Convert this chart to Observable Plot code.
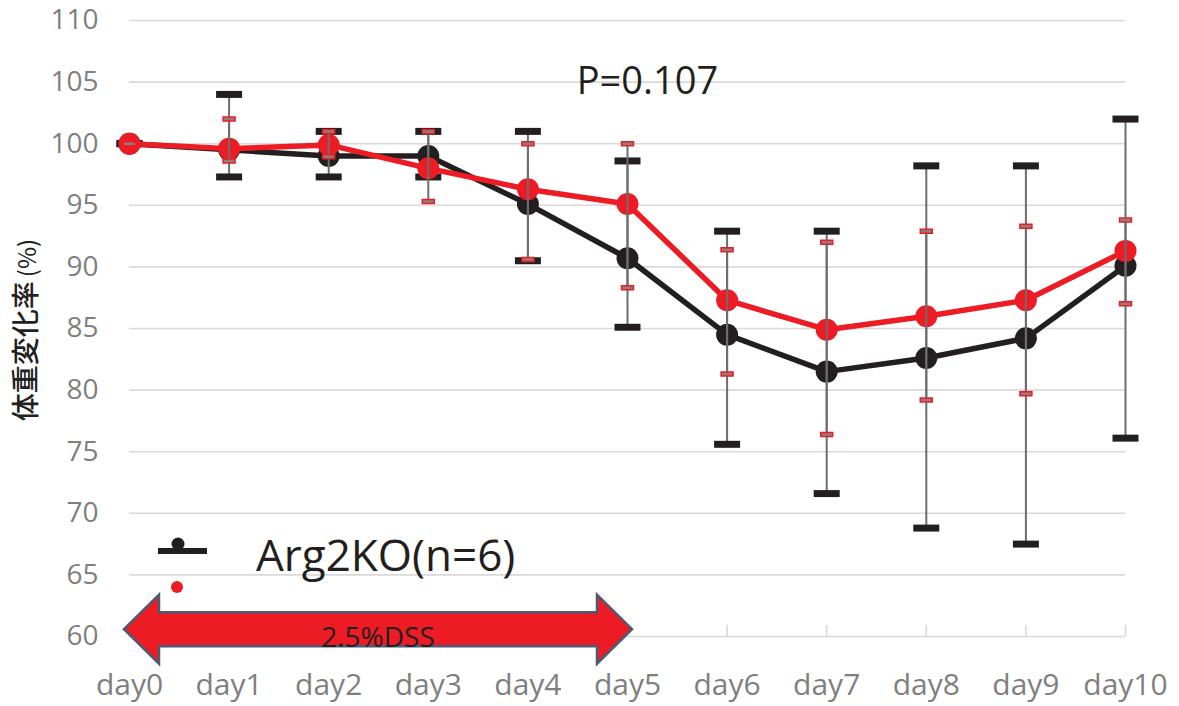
<!DOCTYPE html>
<html><head><meta charset="utf-8">
<script src="https://cdn.jsdelivr.net/npm/d3@7"></script>
<script src="https://cdn.jsdelivr.net/npm/@observablehq/plot@0.6"></script>
<style>body{margin:0;background:#fff}#chart{width:1179px;height:706px}</style>
</head><body><div id="chart"></div>
<script>
// ---- data ----
const days = [0, 1, 2, 3, 4, 5, 6, 7, 8, 9, 10];
const dayLabels = days.map(d => "day" + d);
const yTicks = [60, 65, 70, 75, 80, 85, 90, 95, 100, 105, 110];
const koMean = [100, 99.5, 99.0, 99.0, 95.1, 90.7, 84.5, 81.5, 82.6, 84.2, 90.1];
const koHi   = [100, 104.0, 101.0, 101.0, 101.0, 98.6, 92.9, 92.9, 98.2, 98.2, 102.0];
const koLo   = [100, 97.3, 97.3, 97.3, 90.5, 85.1, 75.6, 71.6, 68.8, 67.5, 76.1];
const wtMean = [100, 99.6, 99.9, 98.0, 96.3, 95.1, 87.3, 84.9, 86.0, 87.3, 91.3];
const wtHi   = [100, 102.0, 101.0, 101.0, 100.0, 100.0, 91.4, 92.0, 92.9, 93.3, 93.8];
const wtLo   = [100, 98.6, 98.95, 95.3, 90.6, 88.3, 81.3, 76.4, 79.2, 79.7, 87.0];
const seriesName = "Arg2KO(n=6)";
const pNote = [{x: 5.2, y: 105, text: "P=0.107"}];
const dss = {start: 0, end: 5, y: 60.55, text: "2.5%DSS"};
const yTitle = "体重変化率", yUnit = "(%)";

const data = days.map((d, i) => ({day: d, ko: koMean[i], koHi: koHi[i], koLo: koLo[i],
  wt: wtMean[i], wtHi: wtHi[i], wtLo: wtLo[i]}));

const BLACK = "#231f20", RED = "#ed1c24", GRID = "#d9d9d9", ERR = "#6d6d6d", TXT = "#7f7f7f";
const rectSym = (w, h) => ({draw(ctx) {
  ctx.moveTo(-w / 2, -h / 2); ctx.lineTo(w / 2, -h / 2); ctx.lineTo(w / 2, h / 2);
  ctx.lineTo(-w / 2, h / 2); ctx.closePath();
}});
const capBlack = rectSym(26, 7);
const capRed = rectSym(12, 4);

const plot = Plot.plot({
  width: 1179, height: 706,
  marginLeft: 129, marginRight: 54, marginTop: 20, marginBottom: 70,
  style: {fontFamily: "'Open Sans', sans-serif", background: "#fff", overflow: "visible"},
  x: {domain: [0, 10]},
  y: {domain: [60, 110]},
  marks: [
    Plot.ruleY(yTicks, {stroke: GRID, strokeWidth: 1.6}),
    Plot.ruleX(days, {x: d => d, y1: 60, y2: 60, insetTop: -11, stroke: GRID, strokeWidth: 1.6}),
    Plot.axisY({ticks: yTicks, tickSize: 0, tickPadding: 31, fontSize: 28, color: TXT, label: null}),
    Plot.axisX({ticks: days, tickFormat: d => dayLabels[d], tickSize: 0, tickPadding: 37, fontSize: 30, color: TXT, label: null}),
    // Arg2KO
    Plot.line(data, {x: "day", y: "ko", stroke: BLACK, strokeWidth: 5.5}),
    Plot.dot(data, {x: "day", y: "ko", r: 11, fill: BLACK}),
    Plot.ruleX(data, {x: "day", y1: "koLo", y2: "koHi", stroke: ERR, strokeWidth: 2}),
    Plot.dot(data, {x: "day", y: "koHi", symbol: capBlack, r: 1, fill: BLACK}),
    Plot.dot(data, {x: "day", y: "koLo", symbol: capBlack, r: 1, fill: BLACK}),
    // control
    Plot.line(data, {x: "day", y: "wt", stroke: RED, strokeWidth: 5.5}),
    Plot.dot(data, {x: "day", y: "wt", r: 11, fill: RED}),
    Plot.ruleX(data, {x: "day", y1: "wtLo", y2: "wtHi", stroke: ERR, strokeWidth: 2}),
    Plot.dot(data, {x: "day", y: "wtHi", symbol: capRed, r: 1, fill: "#8c7f80", stroke: RED, strokeWidth: 1.5}),
    Plot.dot(data, {x: "day", y: "wtLo", symbol: capRed, r: 1, fill: "#8c7f80", stroke: RED, strokeWidth: 1.5}),
    Plot.text(pNote, {x: "x", y: "y", text: "text", fontSize: 38, fill: BLACK})
  ]
});
document.getElementById("chart").append(plot);

const svg = d3.select(plot);
const xs = plot.scale("x"), ys = plot.scale("y");
// DSS arrow
const xL = xs.apply(dss.start), xR = xs.apply(dss.end), yc = ys.apply(dss.y);
const pts = [[xL - 5, yc], [xL + 30, yc - 34.5], [xL + 30, yc - 17], [xR - 30, yc - 17], [xR - 30, yc - 34.5],
  [xR + 5, yc], [xR - 30, yc + 34.5], [xR - 30, yc + 17], [xL + 30, yc + 17], [xL + 30, yc + 34.5]];
svg.append("polygon").attr("points", pts.map(p => p.join(",")).join(" "))
  .attr("fill", RED).attr("stroke", "#4b5b74").attr("stroke-width", 2.5).attr("stroke-linejoin", "miter");
svg.append("text").attr("x", xs.apply((dss.start + dss.end) / 2)).attr("y", yc + 18)
  .attr("text-anchor", "middle").attr("font-size", 28).attr("fill", BLACK).text(dss.text);
// legend
svg.append("line").attr("x1", 158).attr("x2", 207).attr("y1", 551).attr("y2", 551)
  .attr("stroke", BLACK).attr("stroke-width", 6);
svg.append("circle").attr("cx", 178).attr("cy", 544).attr("r", 6.5).attr("fill", BLACK);
svg.append("text").attr("x", 256).attr("y", 571).attr("text-anchor", "start")
  .attr("font-size", 44).attr("fill", BLACK).text(seriesName);
svg.append("circle").attr("cx", 177).attr("cy", 587).attr("r", 6).attr("fill", RED);
// y title
const yt = svg.append("text").attr("transform", "translate(36,330) rotate(-90)")
  .attr("text-anchor", "middle").attr("font-family", "'Noto Sans CJK JP', sans-serif")
  .attr("font-size", 28).attr("font-weight", 500).attr("fill", BLACK);
yt.append("tspan").text(yTitle);
yt.append("tspan").attr("font-size", 24).attr("font-weight", 400).attr("dx", 4).text(yUnit);
</script>
</body></html>
